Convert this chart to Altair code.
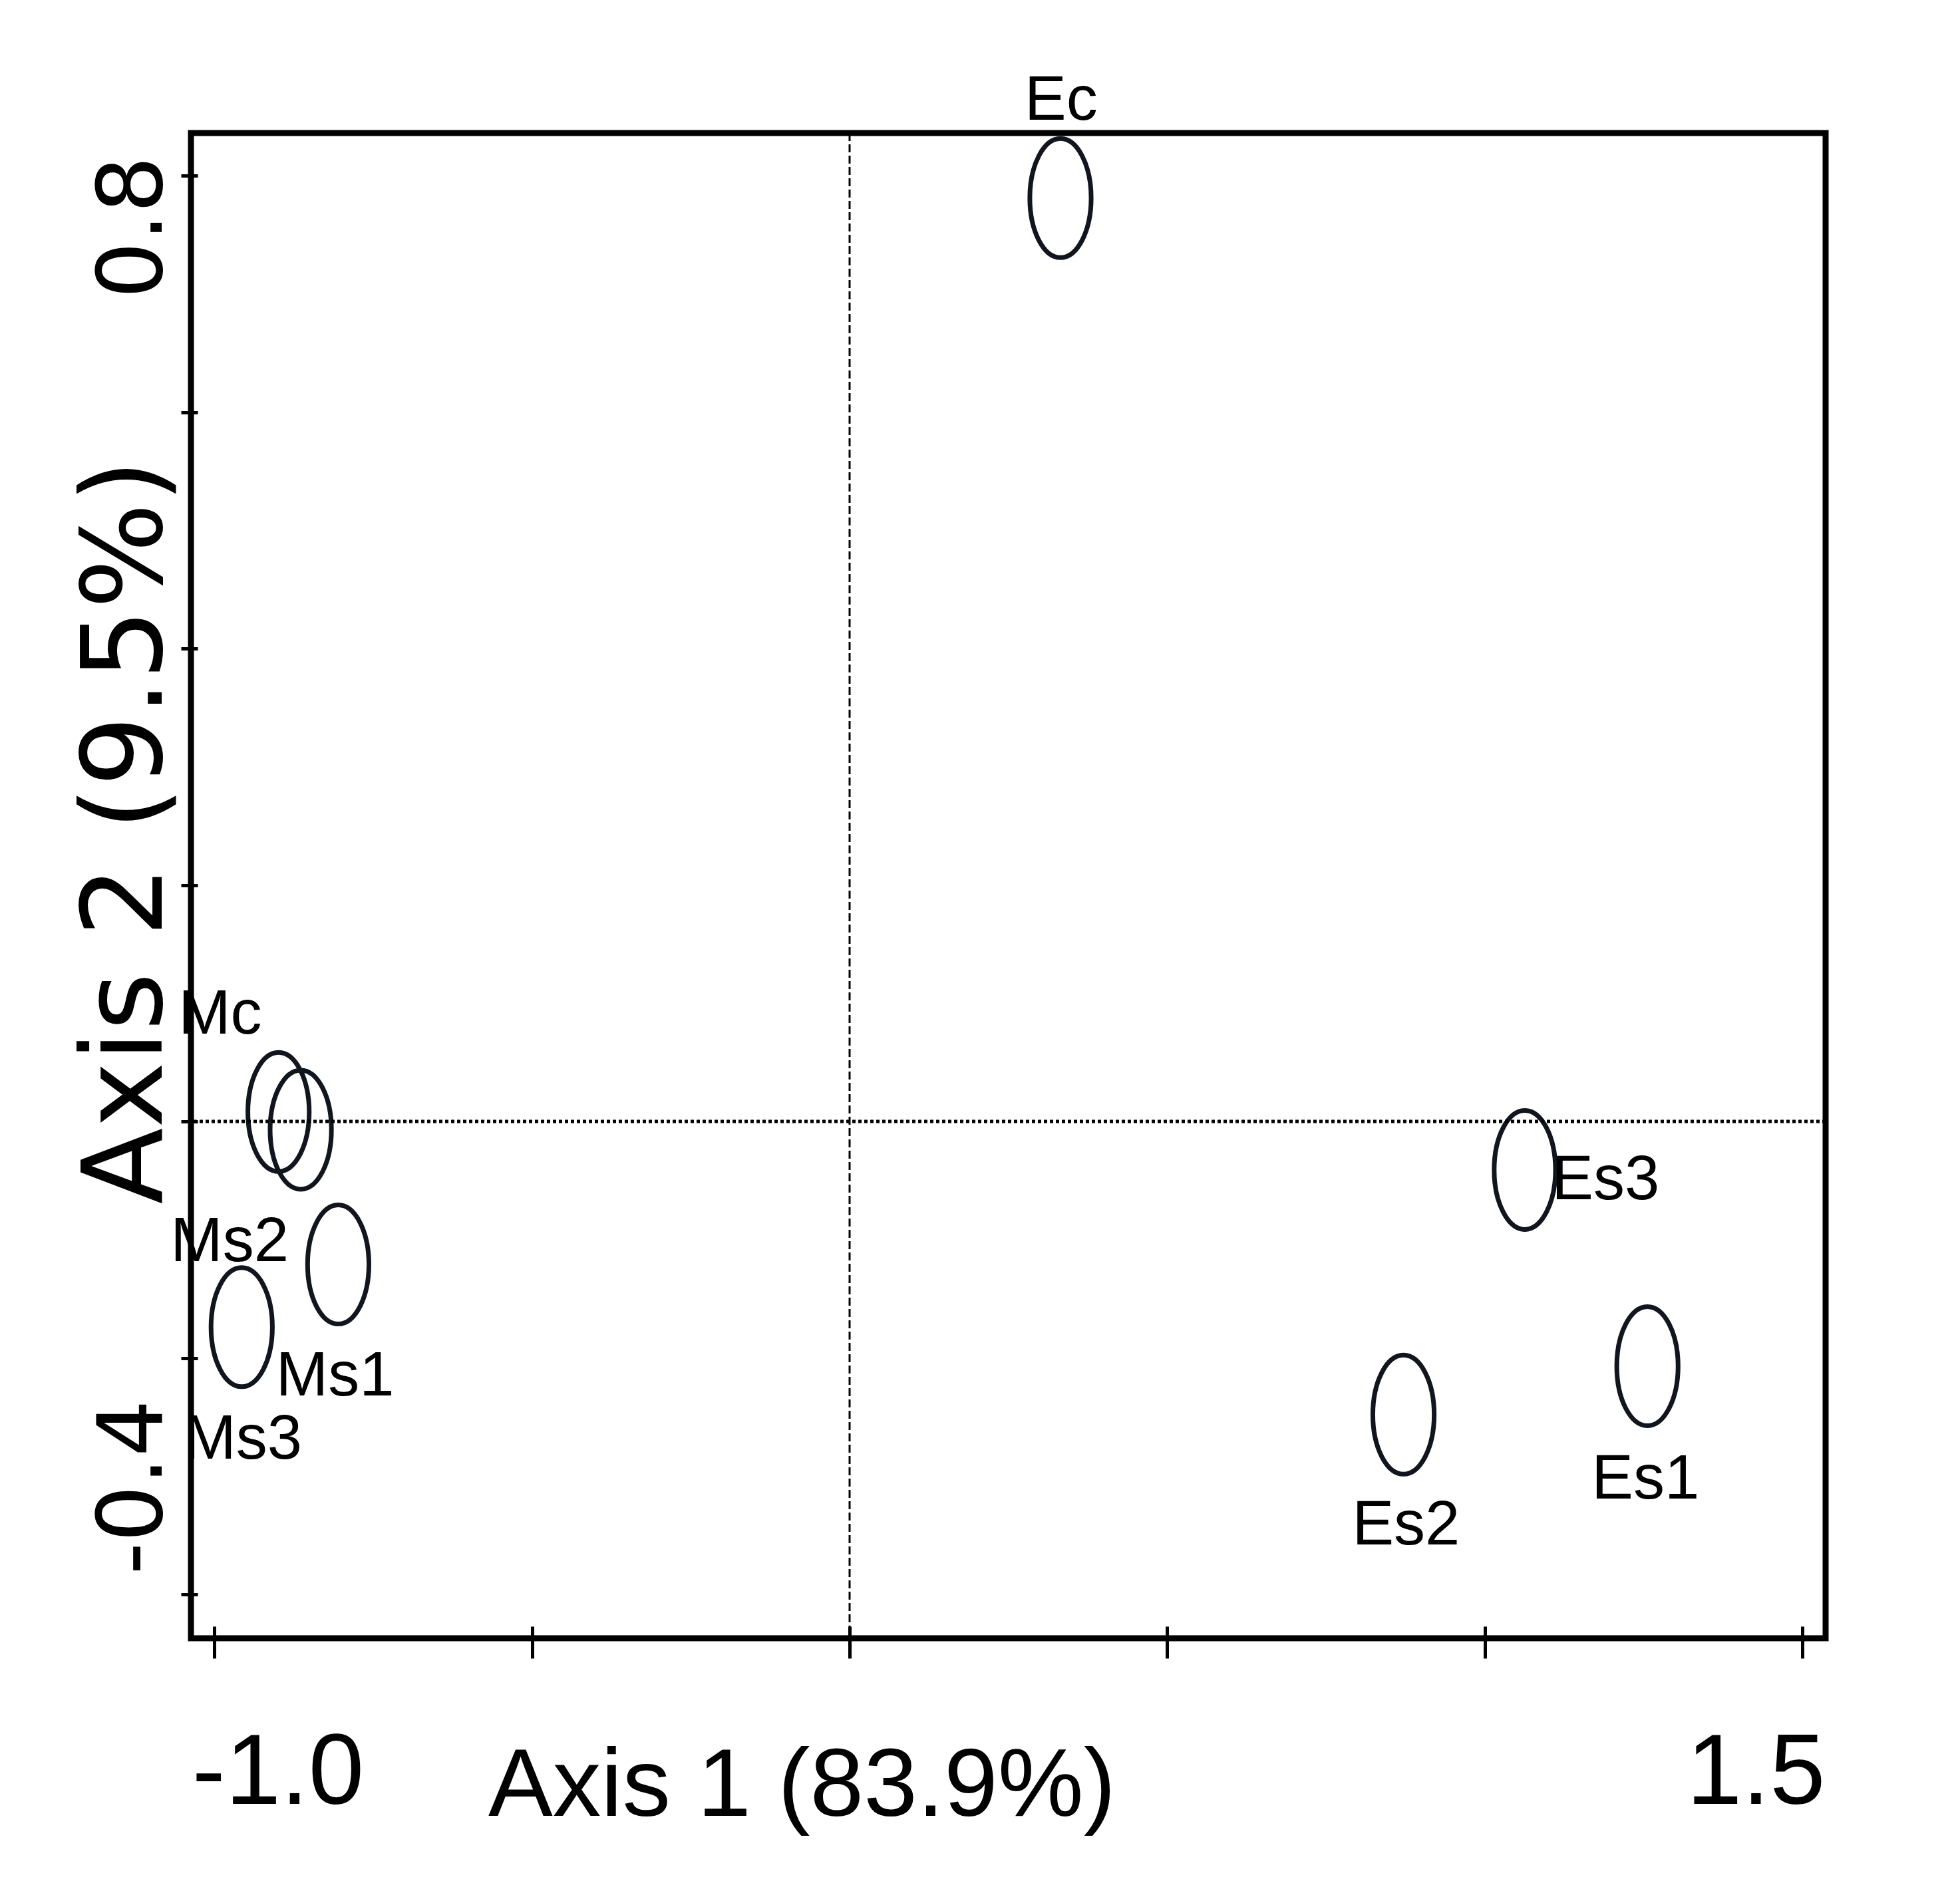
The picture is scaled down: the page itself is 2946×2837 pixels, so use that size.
import altair as alt
import pandas as pd

# sample scores on the first two ordination axes
samples = ["Ec", "Mc", "Ms2", "Ms1", "Ms3", "Es3", "Es1", "Es2"]
axis1 = [0.332, -0.899, -0.864, -0.805, -0.957, 1.063, 1.256, 0.872]
axis2 = [0.781, 0.008, -0.007, -0.121, -0.174, -0.041, -0.207, -0.248]

# where each sample name is written (data units, text baseline)
label_x = [0.333, -0.991, -0.976, -0.810, -0.955, 1.190, 1.253, 0.876]
label_y = [0.847, 0.074, -0.118, -0.232, -0.285, -0.066, -0.319, -0.358]

x_ticks = [-1.0, -0.5, 0.0, 0.5, 1.0, 1.5]
x_tick_labels = ["-1.0", "", "", "", "", "1.5"]
y_ticks = [-0.4, -0.2, 0.0, 0.2, 0.4, 0.6, 0.8]
y_tick_labels = ["-0.4", "", "", "", "", "", "0.8"]

x_domain = [-1.0369, 1.5365]
y_domain = [-0.4371, 0.836]

W, H = 2457, 2263
NARROW = "Liberation Sans Narrow, Liberation Sans, sans-serif"
WIDE = "DejaVu Sans, sans-serif"
INK = "#11151d"
# tall ellipse drawn as a custom symbol path
ELLIPSE = "M0,-1A0.515,1 0 1,1 0,1A0.515,1 0 1,1 0,-1Z"


def label_expr(ticks, labels):
    parts = [f"datum.value == {t} ? '{l}'" for t, l in zip(ticks, labels) if l]
    return " : ".join(parts) + " : ''"


df = pd.DataFrame({
    "sample": samples, "axis1": axis1, "axis2": axis2,
    "label_x": label_x, "label_y": label_y,
})

xscale = alt.Scale(domain=x_domain, nice=False, zero=False)
yscale = alt.Scale(domain=y_domain, nice=False, zero=False)

# ticks cross the frame: outer part = tick, inner part = a short dashed grid stub
x_stub = 18
x_axis = alt.Axis(
    values=x_ticks, labelExpr=label_expr(x_ticks, x_tick_labels),
    title="Axis 1 (83.9%)", domain=False,
    grid=True, gridColor="black", gridWidth=5, gridOpacity=1,
    gridDash=[x_stub, H - x_stub], gridDashOffset=x_stub,
    tickSize=30, tickWidth=5, tickColor="black",
    labelFont=NARROW, labelFontSize=150, labelColor="black", labelLimit=0,
    labelBaseline="alphabetic", labelPadding=218,
    labelFlush=40, labelFlushOffset=34, labelOverlap=False,
    titleFont=NARROW, titleFontSize=145, titleFontWeight="normal", titleColor="black",
    titleX=918, titleY=266, titleAlign="center", titleBaseline="alphabetic",
)
y_axis = alt.Axis(
    values=y_ticks, labelExpr=label_expr(y_ticks, y_tick_labels),
    title="Axis 2 (9.5%)", domain=False,
    grid=True, gridColor="black", gridWidth=5, gridDash=[10, 6000], gridOpacity=1,
    tickSize=15, tickWidth=5, tickColor="black",
    labelFont=WIDE, labelFontSize=135, labelColor="black", labelAngle=270, labelLimit=0,
    labelAlign=alt.condition("datum.value < 0", alt.value("left"), alt.value("right")),
    labelBaseline="alphabetic", labelPadding=30, labelOffset=-30,
    labelFlush=False, labelOverlap=False,
    titleFont=WIDE, titleFontSize=168, titleFontWeight="normal", titleColor="black",
    titleAngle=270, titleAlign="center", titleBaseline="middle",
    titleX=-95, titleY=1050,
)

X = lambda f: alt.X(f, scale=xscale, axis=x_axis)
Y = lambda f: alt.Y(f, scale=yscale, axis=y_axis)

points = alt.Chart(df).mark_point(
    shape=ELLIPSE, filled=False, size=32041, strokeWidth=7, color=INK, opacity=1
).encode(x=X("axis1:Q"), y=Y("axis2:Q"))

names = alt.Chart(df).mark_text(
    font=NARROW, fontSize=94, align="center", baseline="alphabetic", color="black"
).encode(x=X("label_x:Q"), y=Y("label_y:Q"), text="sample:N")

vline = alt.Chart(pd.DataFrame({"v": [0.0]})).mark_rule(
    color="black", strokeWidth=3, strokeDash=[12, 5]
).encode(x=X("v:Q"))

hline = alt.Chart(pd.DataFrame({"v": [0.0]})).mark_rule(
    color="black", strokeWidth=5, strokeDash=[5, 4]
).encode(y=Y("v:Q"))

chart = alt.layer(points, names, vline, hline).properties(
    width=W,
    height=H,
    autosize=alt.AutoSizeParams(type="none"),
    padding={"left": 279, "top": 192, "right": 190, "bottom": 360},
    background="white",
).configure_view(stroke="black", strokeWidth=9)

chart.save("out.html", embed_options={"renderer": "svg", "actions": False})
